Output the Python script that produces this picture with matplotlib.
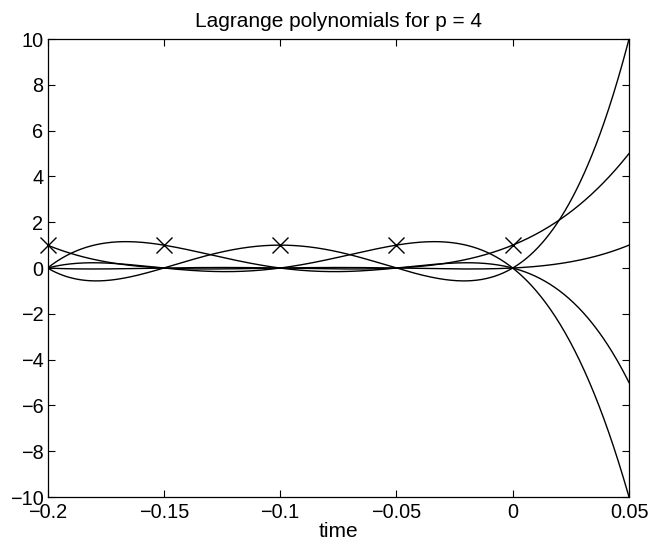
import numpy as np
import matplotlib
matplotlib.use('Agg')
import matplotlib.pyplot as plt

# interpolation nodes (times) and the node value marked with x
NODES = [-0.2, -0.15, -0.1, -0.05, 0.0]
NODE_VALUE = [1, 1, 1, 1, 1]
T_RANGE = (-0.2, 0.05)
X_TICKS = [-0.2, -0.15, -0.1, -0.05, 0, 0.05]
X_TICK_LABELS = ['\u22120.2', '\u22120.15', '\u22120.1', '\u22120.05', '0', '0.05']
Y_TICKS = list(range(-10, 11, 2))

plt.rcParams['font.family'] = ['Liberation Sans', 'DejaVu Sans']
plt.rcParams['axes.unicode_minus'] = True


def lagrange_basis(nodes, j, t):
    out = np.ones_like(t)
    for m, xm in enumerate(nodes):
        if m != j:
            out *= (t - xm) / (nodes[j] - xm)
    return out


fig = plt.figure(figsize=(6.5, 5.46), dpi=100)
ax = fig.add_axes([0.0731, 0.0897, 0.8946, 0.8388])

t = np.linspace(T_RANGE[0], T_RANGE[1], 600)
for j in range(len(NODES)):
    ax.plot(t, lagrange_basis(NODES, j, t), color='black', lw=1.0)

ax.plot(NODES, NODE_VALUE, 'x', color='black', ms=11, mew=1.0, clip_on=False)

ax.set_xlim(*T_RANGE)
ax.set_ylim(-10, 10)
ax.set_xticks(X_TICKS)
ax.set_xticklabels(X_TICK_LABELS)
ax.set_yticks(Y_TICKS)
ax.set_yticklabels([str(v).replace('-', '\u2212') for v in Y_TICKS])
ax.tick_params(direction='in', top=True, right=True, length=5, width=0.8,
               labelsize=14.3)
ax.tick_params(axis='x', pad=4)
ax.tick_params(axis='y', pad=3)
for sp in ax.spines.values():
    sp.set_linewidth(0.9)

ax.set_xlabel('time', fontsize=15, labelpad=0)
ax.set_title('Lagrange polynomials for p = 4', fontsize=15, pad=9)

fig.savefig('out.png', dpi=100)
